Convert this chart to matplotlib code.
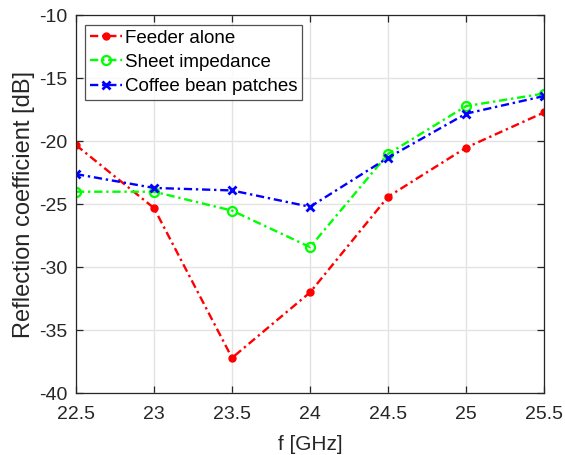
import matplotlib
matplotlib.use("Agg")
import matplotlib.pyplot as plt

freq = [22.5, 23.0, 23.5, 24.0, 24.5, 25.0, 25.5]
feeder_alone = [-20.3, -25.3, -37.2, -32.0, -24.4, -20.5, -17.7]
sheet_impedance = [-24.0, -24.0, -25.5, -28.4, -21.0, -17.2, -16.2]
coffee_bean = [-22.6, -23.7, -23.9, -25.2, -21.3, -17.8, -16.4]

x_ticks = [22.5, 23, 23.5, 24, 24.5, 25, 25.5]
x_tick_labels = ["22.5", "23", "23.5", "24", "24.5", "25", "25.5"]
y_ticks = [-40, -35, -30, -25, -20, -15, -10]
y_tick_labels = ["-40", "-35", "-30", "-25", "-20", "-15", "-10"]

plt.rcParams["font.family"] = ["Liberation Sans", "DejaVu Sans"]
plt.rcParams["axes.unicode_minus"] = False

fig = plt.figure(figsize=(5.65, 4.55), dpi=100)
ax = fig.add_axes([0.1345, 0.136, 0.8285, 0.830])

# short dash-dot pattern
dashdot = (0, (3.5, 1.6, 1.0, 1.6))

ax.plot(freq, feeder_alone, linestyle=dashdot, color="#ff0000", lw=1.7,
        marker="o", markersize=5, markerfacecolor="#ff0000",
        markeredgecolor="#ff0000", label="Feeder alone")
ax.plot(freq, sheet_impedance, linestyle=dashdot, color="#00ff00", lw=1.7,
        marker="o", markersize=6.5, markerfacecolor="none",
        markeredgewidth=1.6, markeredgecolor="#00ff00", label="Sheet impedance")
ax.plot(freq, coffee_bean, linestyle=dashdot, color="#0000ff", lw=1.7,
        marker="x", markersize=6, markeredgewidth=2.0,
        markeredgecolor="#0000ff", label="Coffee bean patches")

ax.set_xlim(22.5, 25.5)
ax.set_ylim(-40, -10)
ax.set_xticks(x_ticks)
ax.set_xticklabels(x_tick_labels)
ax.set_yticks(y_ticks)
ax.set_yticklabels(y_tick_labels)

ax.grid(True, color="#e3e3e3", linewidth=1.0)
ax.set_axisbelow(True)
for side in ax.spines.values():
    side.set_color("#262626")
    side.set_linewidth(0.9)
ax.tick_params(direction="in", length=5, width=0.9, colors="#262626",
               labelsize=14, top=True, right=True)
ax.tick_params(axis="x", pad=9)
ax.tick_params(axis="y", pad=6)

ax.set_xlabel("f [GHz]", fontsize=15, color="#262626", labelpad=9)
ax.set_ylabel("Reflection coefficient [dB]", fontsize=17, color="#262626", labelpad=3)

leg = ax.legend(loc="upper left", bbox_to_anchor=(0.012, 0.985), fontsize=13.5,
                frameon=True, fancybox=False, edgecolor="#262626",
                handlelength=1.7, handletextpad=0.15, borderpad=0.25,
                labelspacing=0.38, borderaxespad=0.2)
leg.get_frame().set_linewidth(0.9)

fig.savefig("out.png", dpi=100)
